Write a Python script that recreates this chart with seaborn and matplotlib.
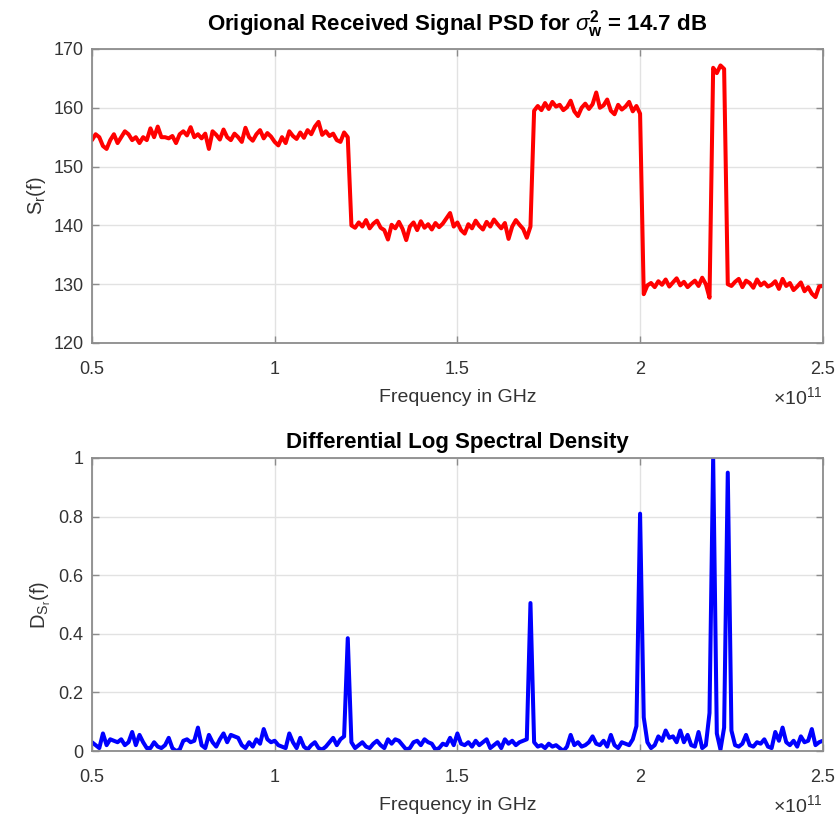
import numpy as np
import matplotlib
matplotlib.use('Agg')
import matplotlib.pyplot as plt
import seaborn as sns
from matplotlib.ticker import FuncFormatter


# frequency grid (Hz), 0.01e11 step
freq = np.linspace(0.5e11, 2.5e11, 201)

# received PSD, read band by band
psd_band_a = [154.5, 155.5, 155.0, 153.5, 153.0, 154.5, 155.5, 154.0, 155.0, 156.0,
              155.5, 154.5, 155.0, 154.0, 155.0, 154.5, 156.5, 155.0, 156.8, 155.0,
              155.0, 154.8, 155.2, 154.0, 155.5, 156.0, 155.3, 156.7, 155.0, 155.5,
              154.8, 155.6, 153.0, 156.0, 155.4, 154.6, 156.3, 155.0, 154.5, 155.6,
              155.0, 154.2, 156.6, 155.0, 154.4, 155.5, 156.2, 154.8, 155.7, 155.1,
              154.2, 153.6, 155.0, 154.0, 156.0, 155.2, 154.7, 155.8, 154.9, 156.2,
              155.5, 156.8, 157.6, 155.4, 156.0, 155.2, 155.6, 154.5, 154.2, 155.8,
              155.0]
psd_band_b = [140.0, 139.6, 140.5, 139.8, 140.9, 139.5, 140.3, 140.8, 139.6, 139.2,
              137.6, 140.1, 139.5, 140.6, 139.4, 137.5, 139.8, 140.5, 139.2, 140.7,
              139.6, 140.2, 139.3, 140.4, 139.7, 140.3, 141.2, 142.1, 139.8, 140.5,
              139.2, 138.6, 140.2, 139.5, 140.8, 139.9, 139.3, 140.6, 139.8, 141.0,
              140.2, 139.5, 140.4, 137.7, 139.8, 140.9, 140.1, 139.4, 137.9, 139.8]
psd_band_c = [159.5, 160.3, 159.6, 160.8, 159.8, 161.0, 160.2, 160.5, 159.6, 160.1,
              161.2, 159.4, 158.6, 160.0, 160.7, 159.8, 160.6, 162.6, 160.0, 160.4,
              161.4, 159.5, 158.9, 160.5, 159.7, 160.2, 161.0, 159.4, 160.3, 159.0]
psd_band_d = [128.3, 129.8, 130.2, 129.5, 130.5, 129.9, 130.8, 129.6, 130.3, 131.0,
              129.8, 130.4, 129.5, 130.1, 130.6, 129.7, 131.1, 130.0, 127.7]
psd_band_e = [166.8, 165.9, 167.2, 166.6]
psd_band_f = [130.0, 129.7, 130.4, 130.9, 129.5, 130.6, 130.2, 129.4, 130.8, 129.8,
              130.3, 129.6, 129.9, 130.5, 129.2, 130.9, 129.7, 130.2, 129.0, 129.6,
              130.3, 128.8, 129.5, 128.4, 127.8, 129.6, 129.7]
psd = psd_band_a + psd_band_b + psd_band_c + psd_band_d + psd_band_e + psd_band_f

# differential log spectral density
dlsd = [0.030, 0.020, 0.010, 0.060, 0.020, 0.040, 0.035, 0.030, 0.040, 0.020,
        0.030, 0.065, 0.020, 0.055, 0.030, 0.010, 0.010, 0.030, 0.015, 0.010,
        0.020, 0.045, 0.010, 0.000, 0.005, 0.035, 0.040, 0.030, 0.035, 0.080,
        0.020, 0.010, 0.055, 0.030, 0.015, 0.040, 0.060, 0.030, 0.055, 0.050,
        0.045, 0.020, 0.010, 0.030, 0.015, 0.040, 0.025, 0.075, 0.040, 0.030,
        0.035, 0.020, 0.015, 0.010, 0.060, 0.030, 0.010, 0.045, 0.015, 0.005,
        0.020, 0.030, 0.010, 0.005, 0.015, 0.030, 0.045, 0.020, 0.040, 0.050,
        0.385, 0.030, 0.010, 0.020, 0.030, 0.015, 0.010, 0.025, 0.035, 0.020,
        0.010, 0.040, 0.025, 0.040, 0.035, 0.020, 0.005, 0.010, 0.030, 0.035,
        0.020, 0.040, 0.030, 0.025, 0.005, 0.010, 0.025, 0.020, 0.045, 0.020,
        0.060, 0.025, 0.020, 0.030, 0.015, 0.035, 0.020, 0.030, 0.040, 0.010,
        0.020, 0.030, 0.010, 0.040, 0.025, 0.035, 0.020, 0.030, 0.035, 0.040,
        0.505, 0.030, 0.015, 0.020, 0.010, 0.025, 0.015, 0.020, 0.010, 0.000,
        0.015, 0.055, 0.020, 0.030, 0.015, 0.020, 0.030, 0.050, 0.025, 0.020,
        0.035, 0.015, 0.055, 0.020, 0.010, 0.030, 0.025, 0.020, 0.040, 0.085,
        0.810, 0.115, 0.030, 0.010, 0.020, 0.050, 0.035, 0.070, 0.045, 0.050,
        0.030, 0.070, 0.030, 0.055, 0.020, 0.015, 0.065, 0.010, 0.020, 0.130,
        1.000, 0.060, 0.005, 0.080, 0.950, 0.070, 0.020, 0.015, 0.025, 0.055,
        0.020, 0.015, 0.030, 0.025, 0.040, 0.015, 0.010, 0.065, 0.035, 0.080,
        0.030, 0.020, 0.035, 0.015, 0.050, 0.030, 0.035, 0.075, 0.020, 0.030,
        0.035]

x_ticks = [0.5e11, 1.0e11, 1.5e11, 2.0e11, 2.5e11]

sns.set_theme(style='whitegrid')
plt.rcParams['font.family'] = ['Liberation Sans', 'DejaVu Sans']
plt.rcParams['mathtext.fontset'] = 'custom'
plt.rcParams['mathtext.rm'] = 'Liberation Sans'
plt.rcParams['mathtext.it'] = 'Liberation Sans:italic'
plt.rcParams['mathtext.bf'] = 'Liberation Sans:bold'


def style_axes(ax):
    ax.set_facecolor('white')
    ax.grid(True, color='#e2e2e2', linewidth=1)
    ax.set_axisbelow(True)
    for s in ax.spines.values():
        s.set_visible(True)
        s.set_color('#8c8c8c')
        s.set_linewidth(1.3)
    ax.tick_params(direction='in', length=5, width=1, color='#8c8c8c',
                   bottom=True, left=True, top=True, right=True,
                   labelsize=13, labelcolor='#333333')
    ax.tick_params(axis='x', pad=13)
    ax.tick_params(axis='y', pad=6)
    ax.set_xlim(0.5e11, 2.5e11)
    ax.set_xticks(x_ticks)
    ax.xaxis.set_major_formatter(FuncFormatter(lambda v, p: f'{v / 1e11:g}'))
    ax.set_xlabel('Frequency in GHz', fontsize=14, color='#333333', labelpad=8)
    ax.text(1.0, -0.185, r'$\times10^{11}$', transform=ax.transAxes, ha='right',
            va='center', fontsize=14, color='#333333')


fig = plt.figure(figsize=(8.4, 8.19), dpi=100)
ax1 = fig.add_axes([0.1095, 0.5812, 0.870, 0.359])
ax2 = fig.add_axes([0.1095, 0.0830, 0.870, 0.3578])

sns.lineplot(x=freq, y=psd, ax=ax1, color='#ff0000', linewidth=2.9)
style_axes(ax1)
ax1.set_ylim(120, 170)
ax1.set_yticks([120, 130, 140, 150, 160, 170])
ax1.set_ylabel(r'S$_\mathrm{r}$(f)', fontsize=14.5, color='#333333')
ax1.set_title(r'Origional Received Signal PSD for $\sigma^{\mathbf{2}}_{\mathbf{w}}$ = 14.7 dB',
              fontsize=16, fontweight='bold', color='black', pad=13)

sns.lineplot(x=freq, y=dlsd, ax=ax2, color='#0000ff', linewidth=2.9)
style_axes(ax2)
ax2.set_ylim(0, 1)
ax2.set_yticks([0, 0.2, 0.4, 0.6, 0.8, 1])
ax2.yaxis.set_major_formatter(FuncFormatter(lambda v, p: f'{v:g}'))
ax2.set_ylabel(r'D$_{\mathrm{S}_\mathrm{r}}$(f)', fontsize=14.5, color='#333333')
ax2.set_title('Differential Log Spectral Density', fontsize=16, fontweight='bold',
              color='black', pad=7)

fig.savefig('out.png', dpi=100, facecolor='white')
